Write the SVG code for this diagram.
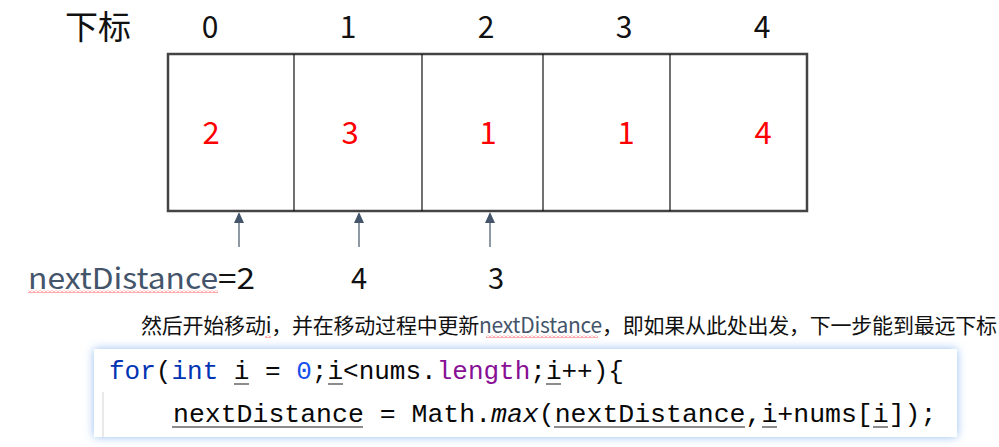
<svg xmlns="http://www.w3.org/2000/svg" width="999" height="447" viewBox="0 0 999 447">
<style>
.lbl{font-family:"Noto Sans CJK SC","Liberation Sans",sans-serif;fill:#111}
.val{font-family:"Noto Sans CJK SC","Liberation Sans",sans-serif;fill:#ff0000;font-size:31px}
.idx{font-size:30px}
.slate{fill:#44546a}
.code{font-family:"Liberation Mono","DejaVu Sans Mono",monospace;fill:#080808}
.kw{fill:#0033b3}
.num{fill:#1750eb}
.fld{fill:#871094}
.ul{stroke:#8c8c8c;stroke-width:2}
.arrow{stroke:#44546a;stroke-width:1.2;fill:none}
.head{fill:#44546a}
</style>
<defs>
<pattern id="wavy" width="4" height="3" patternUnits="userSpaceOnUse">
<path d="M0,2.5 L2,0.5 L4,2.5" stroke="#ff3030" stroke-width="0.8" fill="none"/>
</pattern>
<filter id="glow" x="-5%" y="-30%" width="110%" height="160%">
<feDropShadow dx="0" dy="0" stdDeviation="5" flood-color="#6fa6ec" flood-opacity="0.75"/>
</filter>
</defs>
<rect width="999" height="447" fill="#ffffff"/>

<g id="header">
<text class="lbl" x="65" y="39" font-size="33">下标</text>
<text class="lbl idx" x="210" y="38" text-anchor="middle">0</text>
<text class="lbl idx" x="348" y="38" text-anchor="middle">1</text>
<text class="lbl idx" x="486" y="38" text-anchor="middle">2</text>
<text class="lbl idx" x="624" y="38" text-anchor="middle">3</text>
<text class="lbl idx" x="762" y="38" text-anchor="middle">4</text>
</g>

<g id="array">
<rect x="168" y="54" width="639" height="157" fill="#ffffff" stroke="#444444" stroke-width="2.5"/>
<line x1="294" y1="54" x2="294" y2="211" stroke="#111" stroke-width="1.2"/>
<line x1="422" y1="54" x2="422" y2="211" stroke="#111" stroke-width="1.2"/>
<line x1="543" y1="54" x2="543" y2="211" stroke="#111" stroke-width="1.2"/>
<line x1="670" y1="54" x2="670" y2="211" stroke="#111" stroke-width="1.2"/>
<text class="val" x="211" y="144" text-anchor="middle">2</text>
<text class="val" x="350" y="144" text-anchor="middle">3</text>
<text class="val" x="488" y="144" text-anchor="middle">1</text>
<text class="val" x="626" y="144" text-anchor="middle">1</text>
<text class="val" x="763" y="144" text-anchor="middle">4</text>
</g>

<g id="connectors">
<line class="arrow" x1="239" y1="247" x2="239" y2="222"/>
<polygon class="head" points="239,212 234,223 244,223"/>
<line class="arrow" x1="359" y1="247" x2="359" y2="222"/>
<polygon class="head" points="359,212 354,223 364,223"/>
<line class="arrow" x1="490" y1="247" x2="490" y2="222"/>
<polygon class="head" points="490,212 485,223 495,223"/>
</g>

<g id="distances">
<text class="lbl slate" x="28" y="289" font-size="29" textLength="190" lengthAdjust="spacingAndGlyphs">nextDistance</text>
<rect x="28" y="290" width="190" height="3" fill="url(#wavy)"/>
<text class="lbl" x="218" y="289" font-size="29" textLength="37" lengthAdjust="spacingAndGlyphs">=2</text>
<text class="lbl" x="359" y="289" font-size="29" text-anchor="middle">4</text>
<text class="lbl" x="496" y="289" font-size="29" text-anchor="middle">3</text>
</g>

<g id="caption">
<text class="lbl" x="141" y="333" font-size="21" fill="#222" textLength="856" lengthAdjust="spacing">然后开始移动<tspan>i</tspan>，并在移动过程中更新<tspan class="slate">nextDistance</tspan>，即如果从此处出发，下一步能到最远下标</text>
<rect x="265" y="335" width="6" height="3" fill="url(#wavy)"/>
<rect x="486" y="335" width="112" height="3" fill="url(#wavy)"/>
</g>

<g id="code">
<rect x="94" y="349" width="863" height="88" fill="#ffffff" filter="url(#glow)"/>
<line x1="103" y1="392" x2="103" y2="437" stroke="#d4d4d4" stroke-width="1"/>
<text class="code" x="109" y="379" font-size="26" xml:space="preserve"><tspan class="kw">for</tspan>(<tspan class="kw">int</tspan> i = <tspan class="num">0</tspan>;i&lt;nums.<tspan class="fld">length</tspan>;i++){</text>
<line class="ul" x1="234" y1="384" x2="249" y2="384"/>
<line class="ul" x1="328" y1="384" x2="343" y2="384"/>
<line class="ul" x1="546" y1="384" x2="561" y2="384"/>
<text class="code" x="173" y="422" font-size="26.5" xml:space="preserve">nextDistance = Math.<tspan font-style="italic">max</tspan>(nextDistance,i+nums[i]);</text>
<line class="ul" x1="172" y1="427" x2="363" y2="427"/>
<line class="ul" x1="554" y1="427" x2="745" y2="427"/>
<line class="ul" x1="762" y1="427" x2="777" y2="427"/>
<line class="ul" x1="873" y1="427" x2="888" y2="427"/>
</g>
</svg>
